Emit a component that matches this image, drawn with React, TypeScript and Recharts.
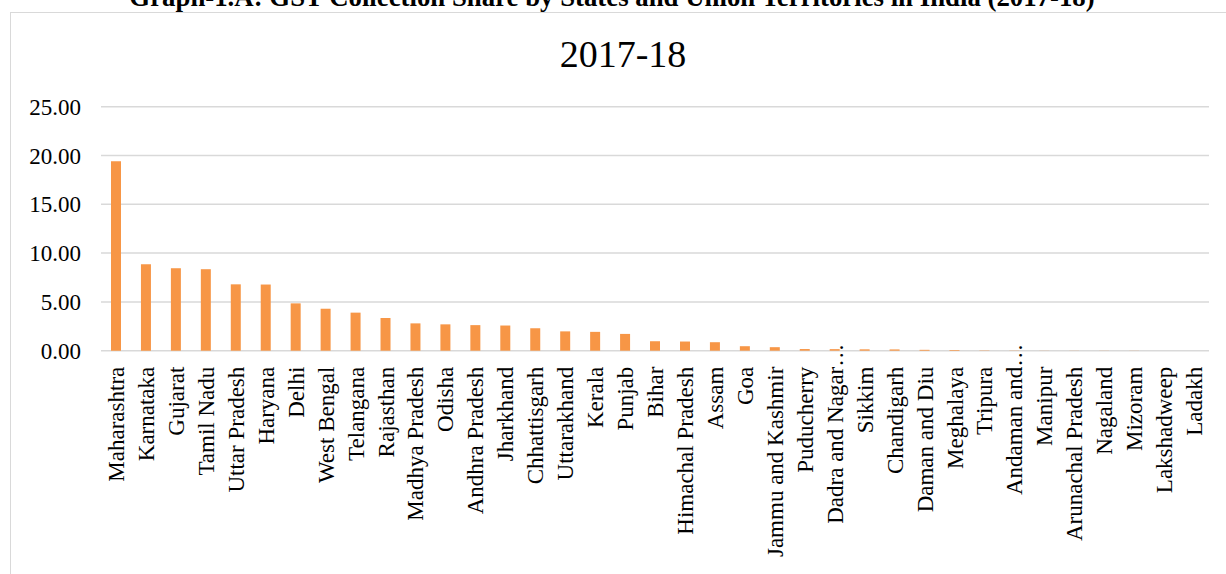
import React from "react";
import { BarChart, Bar, XAxis, YAxis, CartesianGrid } from "recharts";

// GST collection share (%) by state / UT, 2017-18
const states: string[] = [
  "Maharashtra",
  "Karnataka",
  "Gujarat",
  "Tamil Nadu",
  "Uttar Pradesh",
  "Haryana",
  "Delhi",
  "West Bengal",
  "Telangana",
  "Rajasthan",
  "Madhya Pradesh",
  "Odisha",
  "Andhra Pradesh",
  "Jharkhand",
  "Chhattisgarh",
  "Uttarakhand",
  "Kerala",
  "Punjab",
  "Bihar",
  "Himachal Pradesh",
  "Assam",
  "Goa",
  "Jammu and Kashmir",
  "Puducherry",
  "Dadra and Nagar…",
  "Sikkim",
  "Chandigarh",
  "Daman and Diu",
  "Meghalaya",
  "Tripura",
  "Andaman and…",
  "Manipur",
  "Arunachal Pradesh",
  "Nagaland",
  "Mizoram",
  "Lakshadweep",
  "Ladakh",
];

const share: number[] = [
  19.4, 8.85, 8.45, 8.35, 6.8, 6.78, 4.85, 4.3, 3.9, 3.35, 2.8, 2.7, 2.62,
  2.58, 2.3, 1.98, 1.93, 1.72, 0.97, 0.94, 0.87, 0.46, 0.36, 0.17, 0.16, 0.14,
  0.13, 0.09, 0.07, 0.03, 0.02, 0.01, 0.01, 0.01, 0.01, 0.0, 0.0,
];

const yTicks: number[] = [0, 5, 10, 15, 20, 25];

const pageTitle =
  "Graph-1.A: GST Collection Share by States and Union Territories in India (2017-18)";
const chartTitle = "2017-18";

const FONT = "'Liberation Serif', 'Times New Roman', serif";
const BAR_COLOR = "#F79646";
const GRID_COLOR = "#d9d9d9";

const data = states.map((name, i) => ({ name, share: share[i] }));

function StateTick(props: any) {
  const { x, y, payload } = props;
  const label: string = payload.value;
  // Excel pushes the clipped "…" labels up into the plot a little
  const ty = label.endsWith("…") ? y - 23 : y;
  return (
    <text
      x={x}
      y={ty}
      dy="0.35em"
      transform={`rotate(-90, ${x}, ${ty})`}
      textAnchor="end"
      fontFamily={FONT}
      fontSize={23}
      fill="#000"
    >
      {label}
    </text>
  );
}

export default function App() {
  return (
    <div
      style={{
        position: "fixed",
        left: 0,
        top: 0,
        width: 1226,
        height: 574,
        overflow: "hidden",
        background: "#fff",
      }}
    >
      <svg
        width={1226}
        height={574}
        style={{ position: "absolute", left: 0, top: 0 }}
      >
        <rect
          x={10.5}
          y={12.5}
          width={1300}
          height={700}
          fill="none"
          stroke={GRID_COLOR}
          strokeWidth={1}
        />
        <text
          x={612}
          y={6}
          textAnchor="middle"
          fontFamily={FONT}
          fontWeight="bold"
          fontSize={26.8}
          fill="#000"
        >
          {pageTitle}
        </text>
        <text
          x={623}
          y={66.5}
          textAnchor="middle"
          fontFamily={FONT}
          fontSize={38}
          fill="#000"
        >
          {chartTitle}
        </text>
      </svg>

      <div style={{ position: "absolute", left: 0, top: 0 }}>
        <BarChart
          width={1226}
          height={574}
          data={data}
          margin={{ top: 106.7, right: 17, bottom: 0, left: 0 }}
        >
          <CartesianGrid
            vertical={false}
            stroke={GRID_COLOR}
            strokeWidth={1.5}
          />
          <XAxis
            dataKey="name"
            interval={0}
            height={223.3}
            axisLine={false}
            tickLine={false}
            tickSize={0}
            tickMargin={16}
            tick={<StateTick />}
          />
          <YAxis
            width={101}
            domain={[0, 25]}
            ticks={yTicks}
            axisLine={false}
            tickLine={false}
            tickSize={0}
            tickMargin={20}
            tickFormatter={(v: number) => v.toFixed(2)}
            tick={{ fontFamily: FONT, fontSize: 23, fill: "#000" }}
          />
          <Bar
            dataKey="share"
            fill={BAR_COLOR}
            barSize={10}
            isAnimationActive={false}
          />
        </BarChart>
      </div>
    </div>
  );
}
